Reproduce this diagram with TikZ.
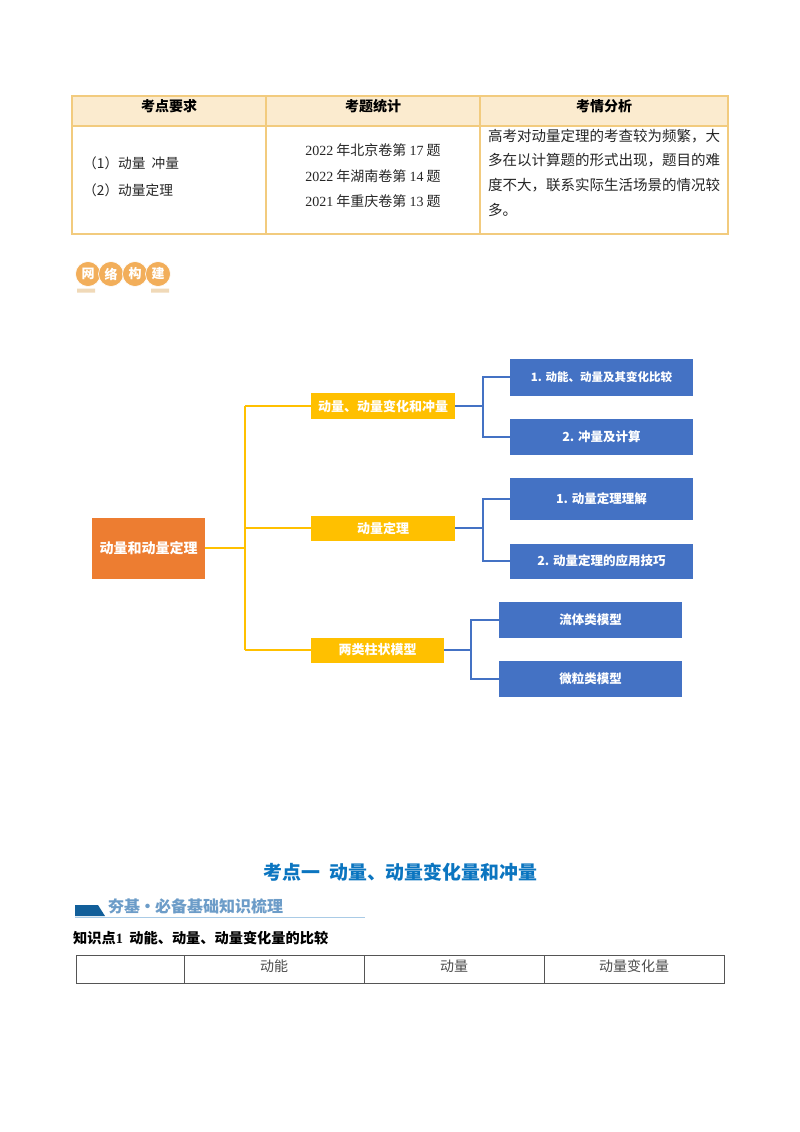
\documentclass[tikz,border=0pt]{standalone}
\usepackage{fontspec}
\setmainfont{Noto Sans CJK SC}
\newfontfamily\lat{Liberation Serif}
\definecolor{tabline}{HTML}{F2CB7E}
\definecolor{tabhead}{HTML}{FBEBCF}
\definecolor{rootc}{HTML}{ED7D31}
\definecolor{yel}{HTML}{FFC000}
\definecolor{blu}{HTML}{4472C4}
\definecolor{badge}{HTML}{F2AE5A}
\definecolor{badgebar}{HTML}{F0D9B8}
\definecolor{headblue}{HTML}{0B75C0}
\definecolor{bandark}{HTML}{125F9A}
\definecolor{bantext}{HTML}{6C9CC8}
\definecolor{banline}{HTML}{A9CBE6}
\definecolor{tabgray}{HTML}{555555}
\tikzset{
  box/.style={anchor=center,inner sep=0pt,outer sep=0pt,align=center,text=white,font=\bfseries},
  rootbox/.style={box,fill=rootc,minimum width=113pt,minimum height=61pt,font=\bfseries\fontsize{14}{16}\selectfont},
  ybox/.style={box,fill=yel,minimum height=26pt,font=\bfseries\fontsize{13}{15}\selectfont},
  bbox/.style={box,fill=blu,minimum width=183pt,font=\bfseries\fontsize{12.5}{15}\selectfont},
  ylink/.style={draw=yel,line width=1.5pt},
  blink/.style={draw=blu,line width=1.5pt},
  tabt/.style={inner sep=0pt,font=\fontsize{14}{16}\selectfont,text=black!85},
  tabh/.style={inner sep=0pt,font=\bfseries\fontsize{14}{16}\selectfont,text=black},
  ana/.style={tabt,anchor=west,font=\fontsize{14.5}{16}\selectfont},
  bc/.style={circle,fill=badge,draw=white,line width=.6pt,minimum size=25pt,inner sep=0pt,text=white,font=\bfseries\fontsize{13}{15}\selectfont},
}
\begin{document}
\begin{tikzpicture}[x=1pt,y=-1pt]
\useasboundingbox[fill=white] (0,0) rectangle (800,1132);
% top table
\fill[tabhead] (72,96) rectangle (728,126);
\draw[tabline,line width=1.4pt] (72,96) rectangle (728,234) (72,126) -- (728,126) (266,96) -- (266,234) (480,96) -- (480,234);
\node[tabh] (h1) at (169,106) {考点要求};
\node[tabh] (h2) at (373,106) {考题统计};
\node[tabh] (h3) at (604,106) {考情分析};
\node[tabt,anchor=west,font=\fontsize{13.7}{16}\selectfont] (l1) at (83,163) {（1）动量\ \ 冲量};
\node[tabt,anchor=west,font=\fontsize{13.7}{16}\selectfont] (l2) at (83,190) {（2）动量定理};
\node[tabt] (m1) at (373,150.5) {{\lat 2022} 年北京卷第 {\lat 17} 题};
\node[tabt] (m2) at (373,176.5) {{\lat 2022} 年湖南卷第 {\lat 14} 题};
\node[tabt] (m3) at (373,201.5) {{\lat 2021} 年重庆卷第 {\lat 13} 题};
\node[ana] (r1) at (488,136) {高考对动量定理的考查较为频繁，大};
\node[ana] (r2) at (488,160.5) {多在以计算题的形式出现，题目的难};
\node[ana] (r3) at (488,185) {度不大，联系实际生活场景的情况较};
\node[ana] (r4) at (488,209.5) {多。};
% badge
\fill[badgebar] (77,288.5) rectangle (95,292.5) (151,288.5) rectangle (169,292.5);
\node[bc] (b1) at (88,274) {网};
\node[bc] (b2) at (111,274) {络};
\node[bc] (b3) at (135,274) {构};
\node[bc] (b4) at (158,274) {建};
% mind map
\node[rootbox] (root) at (148.5,548) {动量和动量定理};
\node[ybox,minimum width=144pt] (y1) at (383,406) {动量、动量变化和冲量};
\node[ybox,minimum width=144pt,minimum height=25pt] (y2) at (383,528) {动量定理};
\node[ybox,minimum width=133pt,minimum height=25pt] (y3) at (377.5,650) {两类柱状模型};
\node[bbox,minimum height=37pt,font=\bfseries\fontsize{11.5}{14}\selectfont] (a1) at (601.5,377) {1. 动能、动量及其变化比较};
\node[bbox,minimum height=36pt] (a2) at (601.5,437) {2. 冲量及计算};
\node[bbox,minimum height=42pt] (a3) at (601.5,499) {1. 动量定理理解};
\node[bbox,minimum height=35pt] (a4) at (601.5,561) {2. 动量定理的应用技巧};
\node[bbox,minimum height=36pt] (a5) at (590.5,620) {流体类模型};
\node[bbox,minimum height=36pt] (a6) at (590.5,679) {微粒类模型};
\coordinate (sp) at (245,548);
\coordinate (s1) at (483,406);
\coordinate (s2) at (483,528);
\coordinate (s3) at (471,650);
\draw[ylink] (root.east) -- (sp);
\draw[ylink] (sp |- y1.west) -- (sp |- y3.west);
\draw[ylink] (sp |- y1.west) -- (y1.west);
\draw[ylink] (sp |- y2.west) -- (y2.west);
\draw[ylink] (sp |- y3.west) -- (y3.west);
\draw[blink] (y1.east) -- (s1);
\draw[blink] (a1.west) -| (s1) |- (a2.west);
\draw[blink] (y2.east) -- (s2);
\draw[blink] (a3.west) -| (s2) |- (a4.west);
\draw[blink] (y3.east) -- (s3);
\draw[blink] (a5.west) -| (s3) |- (a6.west);
% section heading
\node[inner sep=0pt,text=headblue,font=\bfseries\fontsize{18.9}{21}\selectfont] (title) at (400.5,872) {考点一\ \ 动量、动量变化量和冲量};
% banner
\fill[bandark] (75,905) -- (98,905) -- (105,916) -- (75,916) -- cycle;
\draw[banline,line width=.8pt] (75,917.5) -- (365,917.5);
\node[inner sep=0pt,anchor=west,text=bantext,font=\bfseries\fontsize{16}{18}\selectfont] (ban) at (108,906) {夯基{\kern-.5pt}·{\kern-.5pt}必备基础知识梳理};
% subheading
\node[inner sep=0pt,anchor=west,text=black,font=\bfseries\fontsize{14.2}{16}\selectfont] (sub) at (73,938) {知识点{\lat 1}\ \ 动能、动量、动量变化量的比较};
% bottom table
\draw[tabgray,line width=.9pt] (76,955) rectangle (724,983) (184,955) -- (184,983) (364,955) -- (364,983) (544,955) -- (544,983);
\node[tabt,text=black!70] (c1) at (274,966) {动能};
\node[tabt,text=black!70] (c2) at (454,966) {动量};
\node[tabt,text=black!70] (c3) at (634,966) {动量变化量};
\end{tikzpicture}
\end{document}
